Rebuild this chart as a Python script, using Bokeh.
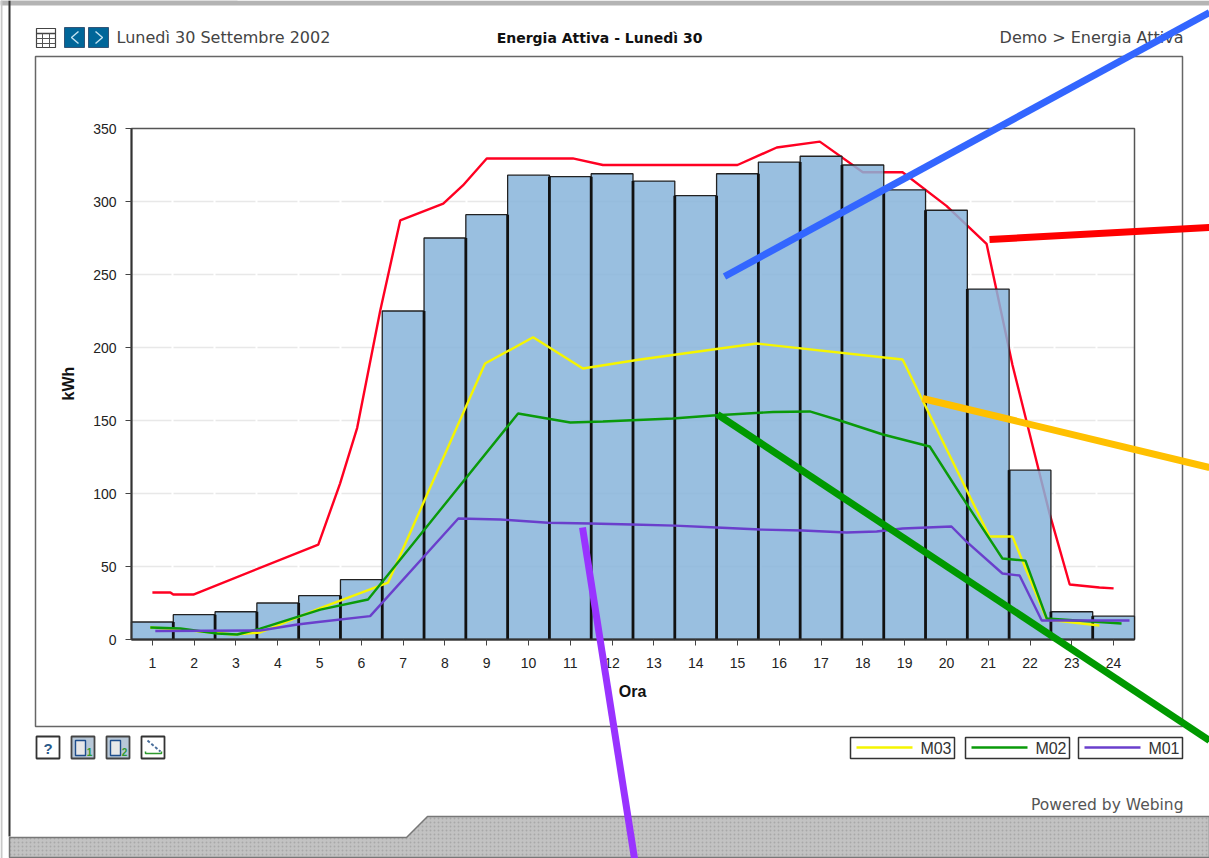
from bokeh.plotting import figure
from bokeh.models import FixedTicker, LinearAxis, Range1d
from bokeh.core.properties import value
from bokeh.embed import file_html
from bokeh.resources import INLINE

W, H = 1209, 858

hours = list(range(1, 25))
kwh_total = [12, 17, 19, 25, 30, 41, 225, 275, 291, 318, 317, 319, 314, 304, 319, 327, 331, 325, 308, 294, 240, 116, 19, 16]

total_line_x = [1.0, 1.43, 1.5, 1.98, 4.97, 5.49, 5.9, 6.45, 6.93, 7.96, 8.43, 9.0, 11.06, 11.78, 15.0, 15.94, 16.97, 18.0, 18.95, 20.0, 20.96, 21.2, 21.58, 22.47, 22.95, 23.66, 24.0]
total_line_y = [32.2, 32.2, 30.8, 30.8, 65, 106.8, 145, 225, 287, 298.6, 311, 329.5, 329.5, 325, 325, 337, 341, 320, 320, 297, 271, 239, 188, 86, 37.7, 35.6, 35]

m03_x = [0.95, 1.67, 2.94, 3.58, 4.97, 6.64, 8.96, 10.11, 11.3, 12.67, 15.46, 18.95, 21.03, 21.58, 22.4, 23.66]
m03_y = [8.2, 6.8, 3.4, 4.8, 21, 39, 189, 207, 185.6, 191.8, 202.7, 191.8, 70.5, 70.5, 13.7, 9.6]

m02_x = [0.95, 1.67, 2.55, 3.03, 3.58, 5.02, 6.16, 9.75, 11, 11.78, 13.45, 14.41, 15.85, 16.73, 17.45, 18.48, 19.6, 20.32, 21.34, 21.89, 22.4, 24.19]
m02_y = [8.2, 7.5, 4.1, 3.4, 7.5, 20.5, 27.4, 154.8, 148.6, 149.3, 151.4, 153.4, 155.8, 156.2, 150, 140.4, 132.2, 100, 55.5, 54, 14.4, 11]

m01_x = [1.07, 3.58, 4.47, 4.97, 6.21, 8.32, 9.32, 10.47, 11.47, 12.47, 13.5, 14.5, 15.54, 16.56, 17.61, 18.33, 18.95, 20.12, 20.48, 21.34, 21.75, 22.28, 24.38]
m01_y = [5.8, 6.2, 10.3, 12, 16, 82.9, 82.2, 80, 79.5, 78.8, 78, 76.7, 75.3, 74.7, 73.3, 74, 76, 77.4, 67, 45.2, 43.8, 13, 13]

y_ticks = [0, 50, 100, 150, 200, 250, 300, 350]
grid_levels = [50, 100, 150, 200, 250, 300]
legend_names = ["M03", "M02", "M01"]

# The frame fills the whole page; the chart's scales are placed so that the plot box lands at 131..1134 / 128..639.
X0, X1, Y0, Y1 = 131, 1134, 639, 128
ux = (X1 - X0) / 24.0
uy = (Y0 - Y1) / 350.0
p = figure(width=W, height=H, output_backend="svg", toolbar_location=None,
           x_range=Range1d(0.5 - X0 / ux, 24.5 + (W - X1) / ux),
           y_range=Range1d(-(H - Y0) / uy, 350 + Y1 / uy),
           x_axis_location=None, y_axis_location=None,
           min_border_left=0, min_border_right=0, min_border_top=0, min_border_bottom=0)
p.outline_line_color = None
p.xgrid.visible = False
p.ygrid.visible = False
p.extra_x_ranges = {"px": Range1d(0, W)}
p.extra_y_ranges = {"px": Range1d(H, 0)}

PX = dict(x_range_name="px", y_range_name="px")


def box(l, t, r, b, fill="#FFFFFF", line=None, lw=1, level="underlay"):
    p.quad(left=[l], right=[r], top=[t], bottom=[b], fill_color=fill, fill_alpha=1 if fill else 0,
           line_color=line, line_width=lw, level=level, **PX)


def seg(pts, color="#000000", lw=2, level="glyph", dash="solid"):
    p.line([a for a, _ in pts], [b for _, b in pts], line_color=color, line_width=lw, level=level, line_dash=dash, **PX)


def text(x, y, s, size="13px", font="DejaVu Sans", style="normal", color="#444444", align="left"):
    p.text([x], [y], text=[s], text_font=value(font), text_font_size=value(size), text_font_style=style,
           text_color=color, text_align=align, text_baseline="middle", level="overlay", **PX)


# page frame
box(0, 0, W, 5, fill="#B4B4B4")
box(0, 0, 237, 4, fill="#B4B4B4")
box(0, 0, 2, H, fill="#C8C8C8")
box(8, 0, 10, 836, fill="#333333")
p.patch([9, 406, 427, W, W, 9], [837, 837, 816, 816, 857, 857], fill_color="#C2C2C2", line_color="#777777",
        line_width=1.5, hatch_pattern=".", hatch_color="#A8A8A8", hatch_scale=4, level="underlay", **PX)

# panel
box(35, 56, 1182, 726, fill=None, line="#666666", lw=1.5)

# grid lines, then plot box
p.segment(x0=[0.5] * len(grid_levels), x1=[24.5] * len(grid_levels), y0=grid_levels, y1=grid_levels,
          line_color="#E8E8E8", line_width=1.5, line_dash="40 2", level="underlay")
box(X0, Y1, X1, Y0, fill=None, line="#555555", lw=1.5)

xaxis = LinearAxis(ticker=FixedTicker(ticks=hours), fixed_location=0, bounds=(0.5, 24.5))
yaxis = LinearAxis(ticker=FixedTicker(ticks=y_ticks), fixed_location=0.5, bounds=(0, 350))
p.add_layout(xaxis, "below")
p.add_layout(yaxis, "left")
for ax in (xaxis, yaxis):
    ax.minor_tick_line_color = None
    ax.major_tick_out = 6
    ax.major_tick_in = 0
    ax.major_tick_line_color = "#444444"
    ax.axis_line_color = "#333333"
    ax.axis_line_width = 2
    ax.major_label_text_font = "Liberation Sans"
    ax.major_label_text_font_size = "14px"
    ax.major_label_text_color = "#222222"
xaxis.major_label_standoff = 12
yaxis.major_label_standoff = 9

p.line(total_line_x, total_line_y, line_color="#FF0022", line_width=2.4)
p.vbar(x=hours, top=kwh_total, width=1, bottom=0, fill_color="#87B4DA", fill_alpha=0.85,
       line_color="#222222", line_width=1.3)
# adjacent bar edges read as one heavy divider up to the lower of the two bars
p.segment(x0=[h + 0.5 for h in hours[:-1]], x1=[h + 0.5 for h in hours[:-1]], y0=[0] * 23,
          y1=[min(a, b) for a, b in zip(kwh_total[:-1], kwh_total[1:])], line_color="#111111", line_width=2.8)
p.line(m03_x, m03_y, line_color="#F5F500", line_width=2.4)
p.line(m02_x, m02_y, line_color="#0A9A0A", line_width=2.4)
p.line(m01_x, m01_y, line_color="#6A3FCC", line_width=2.4)

# axis titles
text(632, 691, "Ora", size="16px", font="Liberation Sans", style="bold", color="#111111", align="center")
p.text([68], [383], text=["kWh"], text_font=value("Liberation Sans"), text_font_size=value("16px"), text_font_style="bold",
       text_color="#111111", text_align="center", text_baseline="middle", angle=1.5708, level="overlay", **PX)

# header
text(116, 37, "Lunedì 30 Settembre 2002", size="16px")
text(599, 37, "Energia Attiva - Lunedì 30", size="14px", style="bold", color="#111111", align="center")
text(1183, 37, "Demo > Energia Attiva", size="16px", align="right")
text(1183, 804, "Powered by Webing", size="15.5px", align="right", color="#555555")

# calendar icon
box(36, 28, 55, 47, fill="#FFFFFF", line="#444444", lw=1.2)
seg([(36, 33), (55, 33)], color="#444444", lw=1.5)
for gx in (42, 49):
    seg([(gx, 33), (gx, 47)], color="#555555", lw=1)
for gy in (38, 43):
    seg([(36, gy), (55, gy)], color="#555555", lw=1)

# prev / next
box(64, 27, 84, 47, fill="#006699", line="#335577", lw=1)
box(88, 27, 108, 47, fill="#006699", line="#335577", lw=1)
seg([(78, 31), (71, 37), (78, 43)], color="#BFE0F0", lw=1.5)
seg([(95, 31), (102, 37), (95, 43)], color="#BFE0F0", lw=1.5)

# bottom icons
box(36, 736, 59, 758, fill="#FFFFFF", line="#333333", lw=1.8)
text(47.5, 748, "?", size="15px", font="Liberation Sans", style="bold", color="#2A5A8A", align="center")
box(71, 736, 94, 758, fill="#B8C8D8", line="#444444", lw=1.8)
box(75, 740, 85, 755, fill="#E8E8E8", line="#1F4E8C", lw=1.4)
text(89, 751, "1", size="10px", font="Liberation Sans", style="bold", color="#2E9A2E", align="center")
box(106, 736, 129, 758, fill="#B8C8D8", line="#444444", lw=1.8)
box(110, 740, 120, 755, fill="#E8E8E8", line="#1F4E8C", lw=1.4)
text(124, 751, "2", size="10px", font="Liberation Sans", style="bold", color="#2E9A2E", align="center")
box(141, 736, 164, 758, fill="#FFFFFF", line="#333333", lw=1.8)
seg([(147, 740), (160, 751)], color="#4A6E9A", lw=2, dash="3 2")
seg([(145, 751), (145, 753), (161, 753), (161, 751)], color="#2E9A2E", lw=1.5)

# legend
legend_boxes = [(850, 954, "#F5F500"), (965, 1069, "#0A9A0A"), (1078, 1182, "#6A3FCC")]
for name, (l, r, c) in zip(legend_names, legend_boxes):
    box(l, 737, r, 758, fill="#FFFFFF", line="#333333", lw=1.5)
    seg([(l + 6, 747), (l + 62, 747)], color=c, lw=2.5)
    text(r - 3, 748, name, size="16px", font="Liberation Sans", color="#333333", align="right")

# hand-drawn arrows
seg([(724, 276), (W, 12)], color="#3366FF", lw=7, level="overlay")
seg([(989, 239), (W, 227)], color="#FF0000", lw=7, level="overlay")
seg([(922, 398), (W, 467)], color="#FFC000", lw=7, level="overlay")
seg([(717, 414), (W, 740)], color="#009900", lw=7, level="overlay")
seg([(582, 527), (634, H)], color="#9933FF", lw=7, level="overlay")

open("out.html", "w").write(file_html(p, INLINE))
